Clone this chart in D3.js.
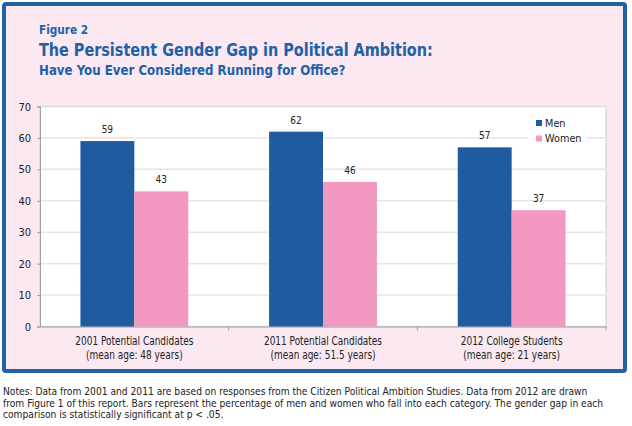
<!DOCTYPE html>
<html>
<head>
<meta charset="utf-8">
<script src="https://cdn.jsdelivr.net/npm/d3@7"></script>
<style>
  body { margin: 0; background: #fff; }
  text { font-family: "DejaVu Sans Condensed", "DejaVu Sans", sans-serif; }
</style>
</head>
<body>
<div id="chart"></div>
<script>
var categories = ["2001 Potential Candidates", "2011 Potential Candidates", "2012 College Students"];
var subLabels = ["(mean age: 48 years)", "(mean age: 51.5 years)", "(mean age: 21 years)"];
var seriesNames = ["Men", "Women"];
var men = [59, 62, 57];
var women = [43, 46, 37];
var yTicks = [0, 10, 20, 30, 40, 50, 60, 70];
var notes = [
  "Notes: Data from 2001 and 2011 are based on responses from the Citizen Political Ambition Studies. Data from 2012 are drawn",
  "from Figure 1 of this report. Bars represent the percentage of men and women who fall into each category. The gender gap in each",
  "comparison is statistically significant at p < .05."
];

var width = 632, height = 426;
var colors = { Men: "#1f5b9e", Women: "#f398c1" };
var blue = "#2161a6";

var svg = d3.select("#chart").append("svg")
    .attr("width", width)
    .attr("height", height);

// pink frame
svg.append("rect")
    .attr("x", 4).attr("y", 4)
    .attr("width", 621).attr("height", 367)
    .attr("rx", 2)
    .attr("fill", "#fbe8f1")
    .attr("stroke", blue)
    .attr("stroke-width", 4);

// titles (squeezed a bit, the original face is narrower)
svg.append("text").attr("transform", "translate(39,34) scale(0.9,1)")
    .attr("fill", blue).attr("font-weight", "bold").attr("font-size", 13)
    .text("Figure 2");
svg.append("text").attr("transform", "translate(39,56) scale(0.9,1)")
    .attr("fill", blue).attr("font-weight", "bold").attr("font-size", 17.8)
    .text("The Persistent Gender Gap in Political Ambition:");
svg.append("text").attr("transform", "translate(39,75) scale(0.92,1)")
    .attr("fill", blue).attr("font-weight", "bold").attr("font-size", 14.3)
    .text("Have You Ever Considered Running for Office?");

var plotLeft = 40, plotRight = 606, plotTop = 106.5, plotBottom = 326.5;

var x0 = d3.scaleBand().domain(categories).range([plotLeft, plotRight]).padding(0);
var x1 = d3.scaleBand().domain(seriesNames).range([0, x0.bandwidth()]).paddingInner(0).paddingOuter(0.75);
var y = d3.scaleLinear().domain([0, 70]).range([plotBottom, plotTop]);

// plot background
svg.append("rect")
    .attr("x", plotLeft).attr("y", plotTop)
    .attr("width", plotRight - plotLeft).attr("height", plotBottom - plotTop)
    .attr("fill", "#fff")
    .attr("stroke", "#dcdcdc")
    .attr("stroke-width", 1.5);

// gridlines
svg.append("g").selectAll("line")
    .data(yTicks.slice(1, -1))
    .enter().append("line")
    .attr("x1", plotLeft).attr("x2", plotRight)
    .attr("y1", function (d) { return y(d); })
    .attr("y2", function (d) { return y(d); })
    .attr("stroke", "#e6e6e6")
    .attr("stroke-width", 1.5);

// y axis
var yAxis = svg.append("g")
    .attr("transform", "translate(" + plotLeft + ",0)")
    .call(d3.axisLeft(y).tickValues(yTicks).tickSize(3).tickPadding(6));
yAxis.select(".domain").attr("stroke", "#a0a0a0");
yAxis.selectAll(".tick line").attr("stroke", "#a0a0a0");
yAxis.selectAll(".tick text")
    .attr("font-family", "DejaVu Sans, sans-serif")
    .attr("font-size", 11)
    .attr("fill", "#222");

// x axis
var xAxis = svg.append("g")
    .attr("transform", "translate(0," + plotBottom + ")")
    .call(d3.axisBottom(x0).tickSize(0).tickSizeOuter(0).tickFormat(""));
xAxis.select(".domain").attr("stroke", "#a0a0a0");
xAxis.selectAll(".tick").remove();
xAxis.selectAll(".sep")
    .data(categories.slice(1).concat(["end"]))
    .enter().append("line")
    .attr("x1", function (d) { return d === "end" ? plotRight : x0(d); })
    .attr("x2", function (d) { return d === "end" ? plotRight : x0(d); })
    .attr("y1", 0).attr("y2", 4)
    .attr("stroke", "#a0a0a0");

// bars
var groups = svg.append("g").selectAll("g")
    .data(categories)
    .enter().append("g")
    .attr("transform", function (d) { return "translate(" + x0(d) + ",0)"; });

var bars = groups.selectAll("g")
    .data(function (d, i) { return [{ key: "Men", value: men[i] }, { key: "Women", value: women[i] }]; })
    .enter().append("g");

bars.append("rect")
    .attr("x", function (d) { return x1(d.key); })
    .attr("y", function (d) { return y(d.value); })
    .attr("width", x1.bandwidth())
    .attr("height", function (d) { return y(0) - y(d.value); })
    .attr("fill", function (d) { return colors[d.key]; });

bars.append("text")
    .attr("x", function (d) { return x1(d.key) + x1.bandwidth() / 2; })
    .attr("y", function (d) { return y(d.value) - 8; })
    .attr("text-anchor", "middle")
    .attr("font-family", "DejaVu Sans, sans-serif")
    .attr("font-size", 10)
    .attr("fill", "#222")
    .text(function (d) { return d.value; });

// category labels
var catLabel = svg.append("g").selectAll("text")
    .data(categories)
    .enter().append("text")
    .attr("text-anchor", "middle")
    .attr("font-size", 12)
    .attr("fill", "#222")
    .attr("transform", function (d) { return "translate(" + (x0(d) + x0.bandwidth() / 2) + ",0) scale(0.83,1)"; });
catLabel.append("tspan")
    .attr("x", 0)
    .attr("y", 345)
    .text(function (d) { return d; });
catLabel.append("tspan")
    .attr("x", 0)
    .attr("y", 359.5)
    .text(function (d, i) { return subLabels[i]; });

// legend
svg.append("rect")
    .attr("x", 528).attr("y", 114)
    .attr("width", 59).attr("height", 32)
    .attr("fill", "#fff");
var legend = svg.append("g").selectAll("g")
    .data(seriesNames)
    .enter().append("g")
    .attr("transform", function (d, i) { return "translate(536," + (120 + i * 15.5) + ")"; });
legend.append("rect")
    .attr("width", 6).attr("height", 6)
    .attr("fill", function (d) { return colors[d]; });
legend.append("text")
    .attr("x", 9).attr("y", 6.5)
    .attr("font-size", 10.8)
    .attr("fill", "#222")
    .text(function (d) { return d; });

// notes
svg.append("g").selectAll("text")
    .data(notes)
    .enter().append("text")
    .attr("transform", function (d, i) { return "translate(3," + (395 + i * 11.7) + ") scale(0.96,1)"; })
    .attr("font-size", 10.6)
    .attr("fill", "#222")
    .text(function (d) { return d; });
</script>
</body>
</html>
